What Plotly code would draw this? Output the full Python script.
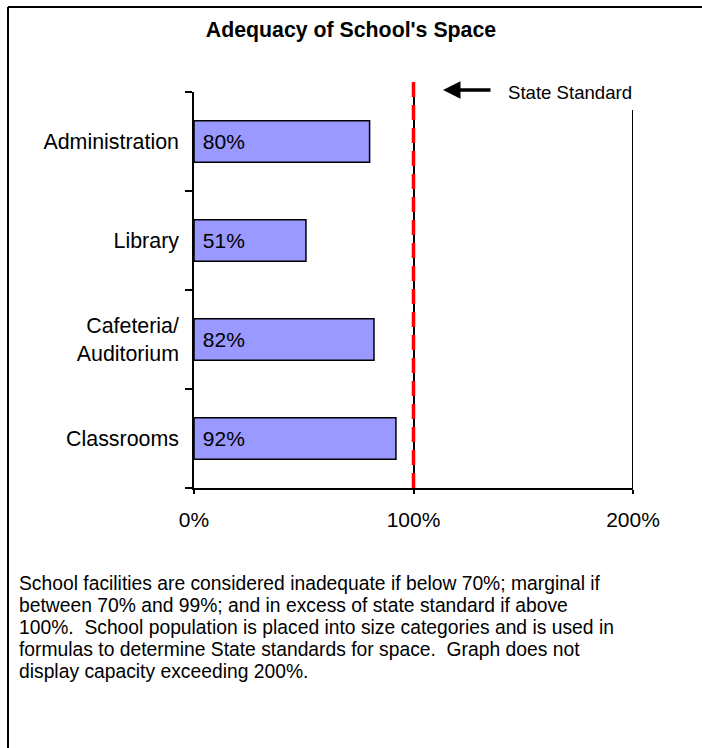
import plotly.graph_objects as go

# Data
categories = ["Classrooms", "Cafeteria/<br>Auditorium", "Library", "Administration"]
values = [92, 82, 51, 80]
x_tick_vals = [0, 100, 200]
x_tick_text = ["0%", "100%", "200%"]
state_standard = 100
x_max = 200
title_text = "Adequacy of School's Space"
footnote_lines = [
    "School facilities are considered inadequate if below 70%; marginal if",
    "between 70% and 99%; and in excess of state standard if above",
    "100%.  School population is placed into size categories and is used in",
    "formulas to determine State standards for space.  Graph does not",
    "display capacity exceeding 200%.",
]

FONT = "Arial, Liberation Sans, sans-serif"

W, H = 702, 748
L, R, T, B = 194, 69, 92, 260
PW = W - L - R
PH = H - T - B


def px_x(px):
    return (px - L) / PW


def px_y(py):
    return (H - B - py) / PH


fig = go.Figure()
fig.add_trace(go.Bar(
    y=categories,
    x=values,
    orientation="h",
    width=0.42,
    marker=dict(color="#9999FF", line=dict(color="black", width=1.5)),
    text=["\u00a0" + f"{v}%" for v in values],
    textposition="inside",
    insidetextanchor="start",
    textfont=dict(family=FONT, size=21, color="black"),
    hoverinfo="skip",
))

shapes = [
    # right gridline at 200% (stops below the State Standard label)
    dict(type="line", xref="x", yref="paper", x0=x_max, x1=x_max,
         y0=0, y1=px_y(110), line=dict(color="black", width=2), layer="above"),
    # state standard red dashed line
    dict(type="line", xref="x", yref="paper", x0=state_standard, x1=state_standard,
         y0=0, y1=px_y(77), line=dict(color="#FF0000", width=3.5, dash="15px,8px"), layer="above"),
    # outer border (top and left)
    dict(type="line", xref="paper", yref="paper", x0=px_x(8), x1=px_x(710),
         y0=px_y(7), y1=px_y(7), line=dict(color="black", width=2)),
    dict(type="line", xref="paper", yref="paper", x0=px_x(8), x1=px_x(8),
         y0=px_y(7), y1=px_y(760), line=dict(color="black", width=2)),
]

annotations = [
    dict(text="State Standard", xref="paper", yref="paper", x=px_x(570), y=px_y(93),
         showarrow=False, font=dict(family=FONT, size=18.6, color="black"),
         xanchor="center", yanchor="middle"),
    dict(text="", xref="paper", yref="paper", x=px_x(443), y=px_y(90),
         showarrow=True, ax=49, ay=0, arrowhead=2, arrowsize=1, arrowwidth=3.5,
         arrowcolor="black"),
]
for i, line in enumerate(footnote_lines):
    annotations.append(dict(
        text=line, xref="paper", yref="paper", x=px_x(17), y=px_y(583 + 22 * i),
        xanchor="left", yanchor="middle", showarrow=False, align="left",
        font=dict(family=FONT, size=19.3, color="black"),
    ))

fig.update_layout(
    width=W, height=H, autosize=False,
    margin=dict(l=L, r=R, t=T, b=B, pad=0),
    paper_bgcolor="white", plot_bgcolor="white",
    showlegend=False,
    title=dict(text="<b>" + title_text + "</b>", x=0.5, xref="container", xanchor="center",
               y=1 - 30 / H, yref="container", yanchor="middle",
               font=dict(family=FONT, size=21.3, color="black")),
    font=dict(family=FONT, size=21, color="black"),
    xaxis=dict(range=[0, x_max], tickvals=x_tick_vals, ticktext=x_tick_text,
               showgrid=True, gridcolor="black", gridwidth=2, zeroline=False,
               showline=True, linecolor="black", linewidth=2,
               ticks="outside", ticklen=4, tickwidth=1.5, tickcolor="black",
               ticklabelstandoff=8, tickfont=dict(family=FONT, size=21, color="black"),
               fixedrange=True),
    yaxis=dict(type="category", categoryorder="array", categoryarray=categories,
               range=[-0.5, 3.5], tickson="boundaries",
               showgrid=False, zeroline=False,
               showline=True, linecolor="black", linewidth=1.5,
               ticks="outside", ticklen=7, tickwidth=1.5, tickcolor="black",
               ticklabelstandoff=9, tickfont=dict(family=FONT, size=21.4, color="black"),
               fixedrange=True),
    shapes=shapes,
    annotations=annotations,
)

fig.write_html(
    "out.html",
    config={"displayModeBar": False},
    post_script="document.body.style.margin='0';document.body.style.overflow='hidden';",
)
